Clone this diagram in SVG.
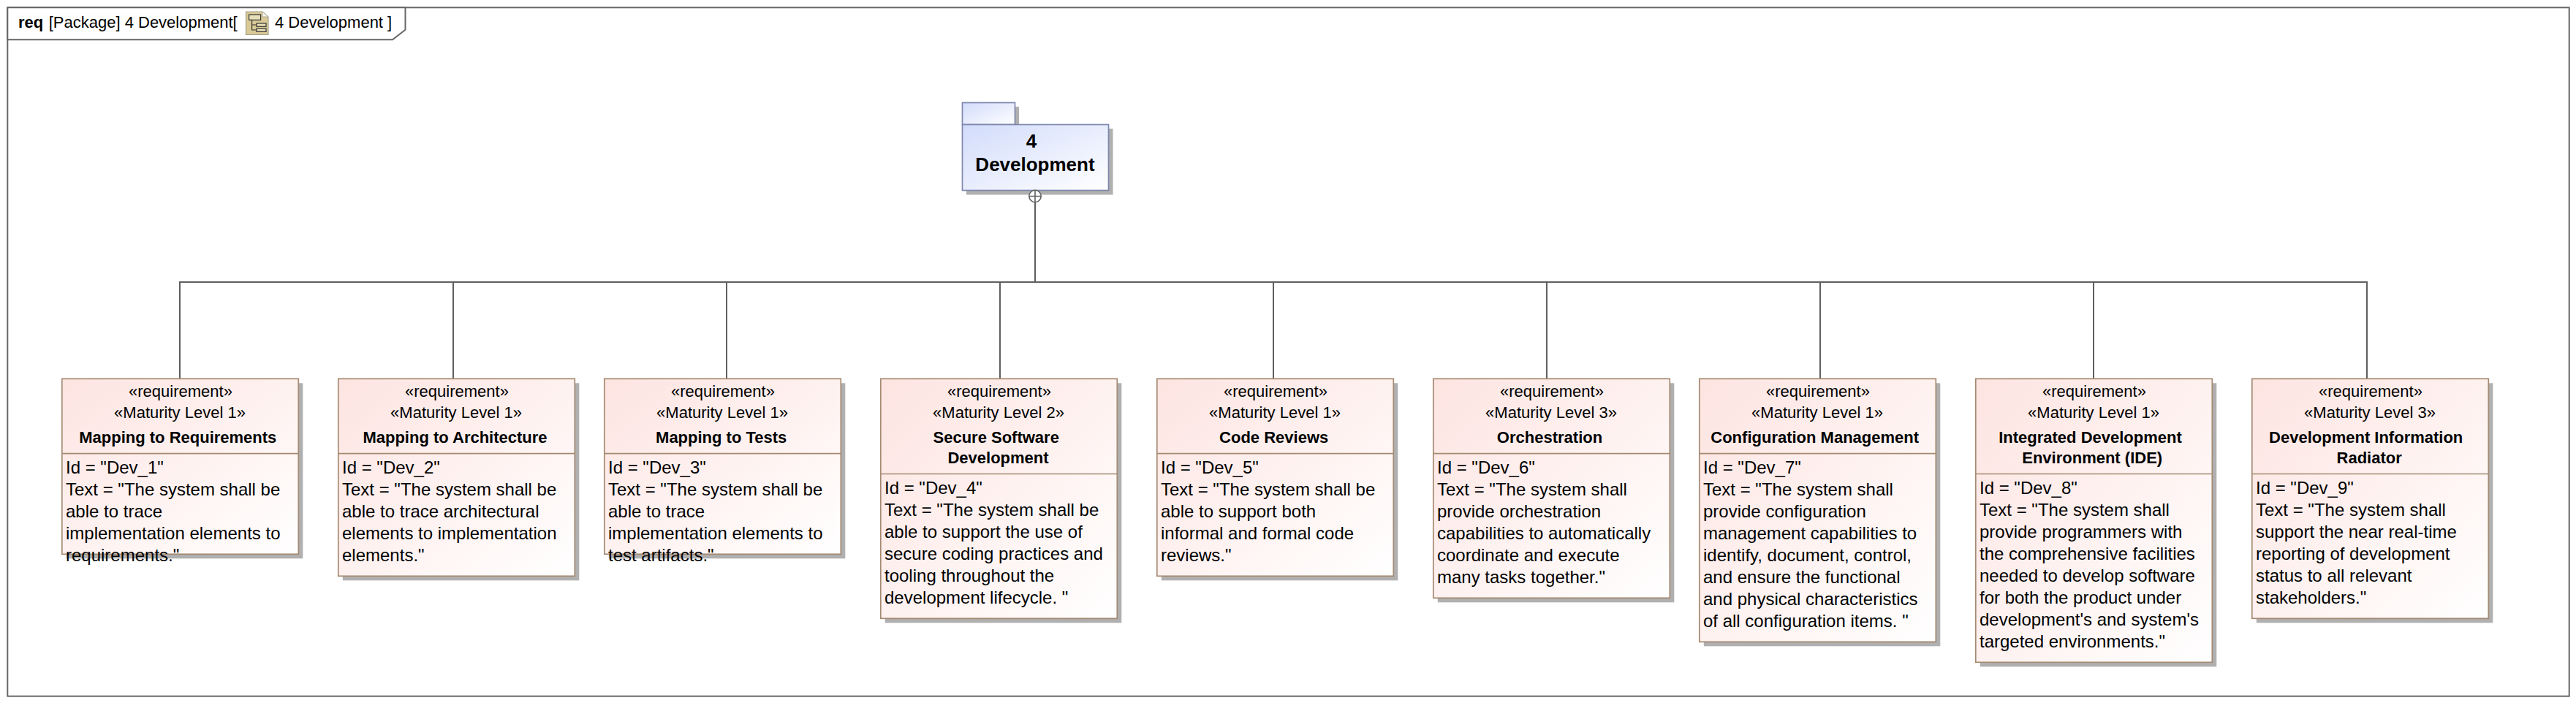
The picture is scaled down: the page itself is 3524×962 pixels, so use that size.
<svg xmlns="http://www.w3.org/2000/svg" width="3524" height="962" viewBox="0 0 3524 962">
<style>
text{font-family:"Liberation Sans",Arial,sans-serif;fill:#000}
.s{font-size:22px;text-anchor:middle}
.t{font-size:22px;font-weight:bold;text-anchor:middle}
.b{font-size:24px}
.p{font-size:26px;font-weight:bold;text-anchor:middle}
.f{font-size:22px}
.sh{fill:#b0b0b0}
.rq{fill:url(#rg);stroke:#a58a72;stroke-width:1.7}
.dv{stroke:#a58a72;stroke-width:1.7;fill:none}
.pk{fill:url(#pg);stroke:#7e88ad;stroke-width:1.7}
.c{fill:none;stroke:#5f5f5f;stroke-width:2}
.fr{fill:#fff;stroke:#666;stroke-width:2}
</style>
<defs>
<linearGradient id="rg" x1="0" y1="0" x2="1" y2="1"><stop offset="0" stop-color="#fde4e1"/><stop offset="1" stop-color="#fff"/></linearGradient>
<linearGradient id="pg" x1="0" y1="0" x2="1" y2="1"><stop offset="0" stop-color="#d2dcfb"/><stop offset="1" stop-color="#fff"/></linearGradient>
</defs>
<rect width="3524" height="962" fill="#fff"/>
<g id="frame">
<rect class="fr" x="10.3" y="10.3" width="3504.4" height="942.4"/>
<path class="fr" d="M10.3 10.3H554.5V40.7L537 54.3H10.3Z"/>
<text class="f" x="25" y="38.3" font-weight="bold">req</text>
<text class="f" x="66.7" y="38.3">[Package] 4 Development[</text>
<g id="frame-icon">
<path d="M336.5 16H359L367 23V47.5H336.5Z" fill="#d9c996" stroke="#a59f8c" stroke-width="1.2"/>
<path d="M359 16L367 23H359Z" fill="#f4f4f4" stroke="#a59f8c" stroke-width="0.8"/>
<rect x="340.6" y="20" width="16" height="7.3" fill="#e8dfb8" stroke="#333" stroke-width="1.2"/>
<path d="M344.6 27.3V41H351M344.6 34H351" fill="none" stroke="#333" stroke-width="1.2"/>
<rect x="351" y="32" width="13" height="4.3" fill="#e8dfb8" stroke="#333" stroke-width="1.2"/>
<rect x="351" y="39" width="13" height="4.3" fill="#e8dfb8" stroke="#333" stroke-width="1.2"/>
</g>
<text class="f" x="376" y="38.3">4 Development ]</text>
</g>
<g id="connectors">
<path class="c" d="M1416 277V386H246V518"/>
<path class="c" d="M1416 277V386H620V518"/>
<path class="c" d="M1416 277V386H994V518"/>
<path class="c" d="M1416 277V386H1368V518"/>
<path class="c" d="M1416 277V386H1742V518"/>
<path class="c" d="M1416 277V386H2116V518"/>
<path class="c" d="M1416 277V386H2490V518"/>
<path class="c" d="M1416 277V386H2864V518"/>
<path class="c" d="M1416 277V386H3238V518"/>
</g>
<g id="package-4-development">
<rect class="sh" x="1322" y="146" width="72" height="40"/>
<rect class="sh" x="1322" y="176" width="200.5" height="90.5"/>
<rect class="pk" x="1316.5" y="140.5" width="72" height="30"/>
<rect class="pk" x="1316.5" y="170.5" width="200" height="90"/>
<text class="p" x="1411" y="201.7">4</text>
<text class="p" x="1416" y="234">Development</text>
</g>
<g id="containment-symbol">
<circle cx="1416" cy="268.5" r="8.2" fill="#fff" stroke="#5f5f5f" stroke-width="1.6"/>
<path d="M1407.8 268.5H1424.2M1416 260.3V276.7" fill="none" stroke="#5f5f5f" stroke-width="1.6"/>
</g>
<g id="dev-1">
<rect class="sh" x="90.8" y="524.3" width="323.5" height="240"/>
<rect class="rq" x="84.8" y="518.3" width="323.5" height="240"/>
<path class="dv" d="M84.8 620.7H408.3"/>
<text class="s" x="247" y="543.3">«requirement»</text>
<text class="s" x="246" y="571.7">«Maturity Level 1»</text>
<text class="t" x="243.3" y="605.7">Mapping to Requirements</text>
<text class="b" x="90" y="647.7">Id = "Dev_1"</text>
<text class="b" x="90" y="677.7">Text = "The system shall be</text>
<text class="b" x="90" y="707.7">able to trace</text>
<text class="b" x="90" y="737.7">implementation elements to</text>
<text class="b" x="90" y="767.7">requirements."</text>
</g>
<g id="dev-2">
<rect class="sh" x="468.8" y="524.3" width="323.5" height="270"/>
<rect class="rq" x="462.8" y="518.3" width="323.5" height="270"/>
<path class="dv" d="M462.8 620.7H786.3"/>
<text class="s" x="625" y="543.3">«requirement»</text>
<text class="s" x="624" y="571.7">«Maturity Level 1»</text>
<text class="t" x="622.5" y="605.7">Mapping to Architecture</text>
<text class="b" x="468" y="647.7">Id = "Dev_2"</text>
<text class="b" x="468" y="677.7">Text = "The system shall be</text>
<text class="b" x="468" y="707.7">able to trace architectural</text>
<text class="b" x="468" y="737.7">elements to implementation</text>
<text class="b" x="468" y="767.7">elements."</text>
</g>
<g id="dev-3">
<rect class="sh" x="832.8" y="524.3" width="323.5" height="240"/>
<rect class="rq" x="826.8" y="518.3" width="323.5" height="240"/>
<path class="dv" d="M826.8 620.7H1150.3"/>
<text class="s" x="989" y="543.3">«requirement»</text>
<text class="s" x="988" y="571.7">«Maturity Level 1»</text>
<text class="t" x="986.7" y="605.7">Mapping to Tests</text>
<text class="b" x="832" y="647.7">Id = "Dev_3"</text>
<text class="b" x="832" y="677.7">Text = "The system shall be</text>
<text class="b" x="832" y="707.7">able to trace</text>
<text class="b" x="832" y="737.7">implementation elements to</text>
<text class="b" x="832" y="767.7">test artifacts."</text>
</g>
<g id="dev-4">
<rect class="sh" x="1210.8" y="524.3" width="323.5" height="328"/>
<rect class="rq" x="1204.8" y="518.3" width="323.5" height="328"/>
<path class="dv" d="M1204.8 648.5H1528.3"/>
<text class="s" x="1367" y="543.3">«requirement»</text>
<text class="s" x="1366" y="571.7">«Maturity Level 2»</text>
<text class="t" x="1362.7" y="605.7">Secure Software</text>
<text class="t" x="1365.5" y="633.5">Development</text>
<text class="b" x="1210" y="675.7">Id = "Dev_4"</text>
<text class="b" x="1210" y="705.7">Text = "The system shall be</text>
<text class="b" x="1210" y="735.7">able to support the use of</text>
<text class="b" x="1210" y="765.7">secure coding practices and</text>
<text class="b" x="1210" y="795.7">tooling throughout the</text>
<text class="b" x="1210" y="825.7">development lifecycle. "</text>
</g>
<g id="dev-5">
<rect class="sh" x="1588.8" y="524.3" width="323.5" height="270"/>
<rect class="rq" x="1582.8" y="518.3" width="323.5" height="270"/>
<path class="dv" d="M1582.8 620.7H1906.3"/>
<text class="s" x="1745" y="543.3">«requirement»</text>
<text class="s" x="1744" y="571.7">«Maturity Level 1»</text>
<text class="t" x="1742.7" y="605.7">Code Reviews</text>
<text class="b" x="1588" y="647.7">Id = "Dev_5"</text>
<text class="b" x="1588" y="677.7">Text = "The system shall be</text>
<text class="b" x="1588" y="707.7">able to support both</text>
<text class="b" x="1588" y="737.7">informal and formal code</text>
<text class="b" x="1588" y="767.7">reviews."</text>
</g>
<g id="dev-6">
<rect class="sh" x="1966.8" y="524.3" width="323.5" height="300"/>
<rect class="rq" x="1960.8" y="518.3" width="323.5" height="300"/>
<path class="dv" d="M1960.8 620.7H2284.3"/>
<text class="s" x="2123" y="543.3">«requirement»</text>
<text class="s" x="2122" y="571.7">«Maturity Level 3»</text>
<text class="t" x="2120" y="605.7">Orchestration</text>
<text class="b" x="1966" y="647.7">Id = "Dev_6"</text>
<text class="b" x="1966" y="677.7">Text = "The system shall</text>
<text class="b" x="1966" y="707.7">provide orchestration</text>
<text class="b" x="1966" y="737.7">capabilities to automatically</text>
<text class="b" x="1966" y="767.7">coordinate and execute</text>
<text class="b" x="1966" y="797.7">many tasks together."</text>
</g>
<g id="dev-7">
<rect class="sh" x="2330.8" y="524.3" width="323.5" height="360"/>
<rect class="rq" x="2324.8" y="518.3" width="323.5" height="360"/>
<path class="dv" d="M2324.8 620.7H2648.3"/>
<text class="s" x="2487" y="543.3">«requirement»</text>
<text class="s" x="2486" y="571.7">«Maturity Level 1»</text>
<text class="t" x="2482.7" y="605.7">Configuration Management</text>
<text class="b" x="2330" y="647.7">Id = "Dev_7"</text>
<text class="b" x="2330" y="677.7">Text = "The system shall</text>
<text class="b" x="2330" y="707.7">provide configuration</text>
<text class="b" x="2330" y="737.7">management capabilities to</text>
<text class="b" x="2330" y="767.7">identify, document, control,</text>
<text class="b" x="2330" y="797.7">and ensure the functional</text>
<text class="b" x="2330" y="827.7">and physical characteristics</text>
<text class="b" x="2330" y="857.7">of all configuration items. "</text>
</g>
<g id="dev-8">
<rect class="sh" x="2708.8" y="524.3" width="323.5" height="388"/>
<rect class="rq" x="2702.8" y="518.3" width="323.5" height="388"/>
<path class="dv" d="M2702.8 648.5H3026.3"/>
<text class="s" x="2865" y="543.3">«requirement»</text>
<text class="s" x="2864" y="571.7">«Maturity Level 1»</text>
<text class="t" x="2859.5" y="605.7">Integrated Development</text>
<text class="t" x="2862.2" y="633.5">Environment (IDE)</text>
<text class="b" x="2708" y="675.7">Id = "Dev_8"</text>
<text class="b" x="2708" y="705.7">Text = "The system shall</text>
<text class="b" x="2708" y="735.7">provide programmers with</text>
<text class="b" x="2708" y="765.7">the comprehensive facilities</text>
<text class="b" x="2708" y="795.7">needed to develop software</text>
<text class="b" x="2708" y="825.7">for both the product under</text>
<text class="b" x="2708" y="855.7">development's and system's</text>
<text class="b" x="2708" y="885.7">targeted environments."</text>
</g>
<g id="dev-9">
<rect class="sh" x="3086.8" y="524.3" width="323.5" height="328"/>
<rect class="rq" x="3080.8" y="518.3" width="323.5" height="328"/>
<path class="dv" d="M3080.8 648.5H3404.3"/>
<text class="s" x="3243" y="543.3">«requirement»</text>
<text class="s" x="3242" y="571.7">«Maturity Level 3»</text>
<text class="t" x="3236.7" y="605.7">Development Information</text>
<text class="t" x="3241.2" y="633.5">Radiator</text>
<text class="b" x="3086" y="675.7">Id = "Dev_9"</text>
<text class="b" x="3086" y="705.7">Text = "The system shall</text>
<text class="b" x="3086" y="735.7">support the near real-time</text>
<text class="b" x="3086" y="765.7">reporting of development</text>
<text class="b" x="3086" y="795.7">status to all relevant</text>
<text class="b" x="3086" y="825.7">stakeholders."</text>
</g>
</svg>
